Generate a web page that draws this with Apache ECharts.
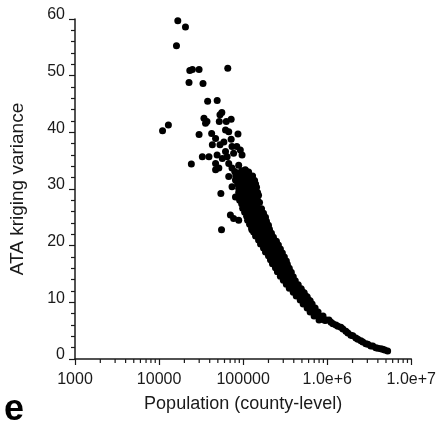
<!DOCTYPE html>
<html>
<head>
<meta charset="utf-8">
<script src="https://cdn.jsdelivr.net/npm/echarts@6/dist/echarts.min.js"></script>
<style>
html,body{margin:0;padding:0;background:#fff;}
#chart{width:439px;height:428px;}
</style>
</head>
<body>
<div id="chart"></div>
<script>
// ---- data (population, ATA kriging variance) ----
const outliers = [
  [16700,59.7],[20600,58.6],[16100,55.3],[23200,50.9],[24900,51.1],[29900,51.1],
  [65600,51.3],[22700,48.8],[33300,48.6],[37800,45.5],[49100,45.6],[11000,40.3],
  [12900,41.3],[24200,34.4],[29900,39.6],[32700,35.7],[54300,29.2],[55300,22.8]
];
const cluster = [
  [34200,42.5],[37100,41.9],[35700,41.6],[53000,43.1],[55800,43.5],[72000,42.3],
  [63000,41.9],[52000,41.9],[42200,39.8],[61700,40.4],[67400,40.1],[86800,39.7],
  [47000,38.9],[72000,38.8],[43000,37.8],[53000,37.8],[59000,38.3],[73700,37.5],
  [84000,37.5],[92500,36.9],[39200,35.7],[49000,36.0],[56500,35.4],[64500,35.7],
  [77000,36.3],[47000,34.5],[51400,33.7],[67400,34.5],[88500,34.2],[106000,33.4],
  [67400,32.2],[81000,31.6],[97000,32.2],[73700,30.4],[92500,30.1],[106000,28.6],
  [81000,28.6],[61700,36.6],[47000,33.4],[73700,33.7],[97000,36.0],[109000,33.1],
  [106000,31.0],[70500,25.4],[77000,24.8],[88500,24.5],[127000,22.8]
];
const band = [
  [79400,33.1],[86100,32.8],[96000,33.2],[104200,32.9],[116100,33.0],
  [81600,32.3],[88500,32.5],[98700,32.1],[110000,32.4],[119300,32.2],[129500,32.3],
  [83800,31.5],[90900,31.8],[101400,31.6],[113000,31.4],[122600,31.7],[136700,31.5],
  [86100,30.9],[93500,30.7],[104200,31.0],[116100,30.8],[126000,31.1],[140500,30.9],
  [88500,30.1],[96000,30.3],[107100,30.2],[116100,29.9],[129500,30.2],[144300,30.3],
  [88500,29.4],[98700,29.6],[107100,29.3],[119300,29.5],[133000,29.7],[148300,29.4],
  [90900,28.8],[101400,28.6],[110000,28.9],[122600,28.7],[136700,28.8],[152400,28.9],
  [90900,28.0],[98700,28.2],[110000,27.9],[122600,28.1],[133000,28.3],[148300,28.0],
  [96000,27.4],[107100,27.2],[116100,27.5],[129500,27.3],[144300,27.4],[156600,27.6],
  [98700,26.6],[110000,26.8],[119300,26.5],[133000,26.7],[148300,26.6],[165400,26.5],
  [104200,25.9],[113000,26.1],[126000,25.8],[140500,26.0],[156600,25.9],[174600,25.7],
  [110000,25.2],[119300,25.3],[133000,25.1],[148300,25.3],[165400,25.2],[184400,25.0],
  [113000,24.5],[126000,24.6],[140500,24.4],[156600,24.6],[174600,24.5],[189400,24.3],
  [119300,23.8],[133000,23.9],[148300,23.7],[165400,23.9],[184400,23.8],[200000,23.6],
  [126000,23.1],[140500,23.2],[156600,23.0],[174600,23.2],[189400,23.1],[205500,22.9],
  [133000,22.4],[148300,22.5],[165400,22.3],[179400,22.5],[200000,22.4],[217000,22.2],
  [140500,21.7],[156600,21.8],[169900,21.6],[189400,21.8],[211200,21.7],[229200,21.5],
  [152400,21.0],[165400,21.1],[184400,20.9],[205500,21.1],[229200,21.0],[248700,20.8],
  [160900,20.3],[179400,20.4],[200000,20.2],[223000,20.4],[242000,20.3],[262400,20.1],
  [174600,19.6],[194700,19.7],[211200,19.5],[235500,19.7],[255500,19.6],[277100,19.4],
  [184400,18.9],[205500,19.0],[229200,18.8],[248700,19.0],[269700,18.9],[292600,18.7],
  [200000,18.2],[223000,18.3],[242000,18.1],[262400,18.3],[284800,18.2],[309000,18.0],
  [211200,17.5],[235500,17.6],[255500,17.4],[277100,17.6],[300700,17.5],[326300,17.3],
  [223000,16.8],[248700,16.9],[277100,16.7],[300700,16.9],[335300,16.7],
  [242000,16.1],[269700,16.2],[292600,16.0],[326300,16.2],[353800,16.0],
  [255500,15.4],[284800,15.5],[309000,15.3],[344300,15.5],[373600,15.3],
  [277100,14.6],[309000,14.7],[335300,14.5],[363600,14.7],[394500,14.5],
  [300700,13.9],[326300,14.0],[353800,13.8],[383900,14.0],[416600,13.8],
  [326300,13.2],[353800,13.3],[383900,13.1],[416600,13.3],[451700,13.1],
  [353800,12.5],[383900,12.6],[416600,12.4],[451700,12.6],[490100,12.4],
  [394500,11.8],[428100,11.9],[464200,11.7],[503600,11.9],[531800,11.7],
  [428100,11.1],[464200,11.2],[503600,11.0],[546500,11.2],[577000,11.0],
  [477000,10.4],[517500,10.5],[561500,10.3],[593000,10.5],[626100,10.3],
  [517500,9.7],[561500,9.8],[609300,9.6],[661100,9.7],
  [577000,9.0],[626100,9.1],[679400,8.9],[717300,9.0],
  [626100,8.3],[679400,8.4],[737100,8.2],[778000,8.3],
  [698100,7.6],[757500,7.7],[821500,7.5],[891400,7.6],
  [799500,6.9],[867500,7.0],[941200,6.8],[1049000,6.9]
];
const tail = [
  [891400,7.1],[967200,6.9],[1108000,6.5],[1170000,6.2],[1269000,6.0],[1340000,5.8],
  [1454000,5.6],[1536000,5.3],[1667000,4.9],[1761000,4.6],[1911000,4.2],[2018000,4.1],
  [2191000,3.7],[2314000,3.5],[2511000,3.2],[2652000,3.0],[2878000,2.7],[3039000,2.6],
  [3299000,2.3],[3484000,2.3],[3781000,2.0],[3993000,1.9],[4333000,1.8],[4576000,1.7],
  [4830000,1.6],[5230000,1.4]
];
const xTickLabels = ['1000','10000','100000','1.0e+6','1.0e+7'];
const yTickLabels = ['0','10','20','30','40','50','60'];
const xTitle = 'Population (county-level)';
const yTitle = 'ATA kriging variance';
const panelLetter = 'e';

// minor tick positions for log axis (2..9 in each decade)
const decades = [1000, 10000, 100000, 1000000];
const minorX = [];
decades.forEach(d => { for (let k = 2; k <= 9; k++) minorX.push([d * k, 0]); });

const allPoints = outliers.concat(cluster, band, tail);
const FONT = '"Liberation Sans", Arial, sans-serif';
const INK = '#1a1a1a';

const chart = echarts.init(document.getElementById('chart'), null, {renderer: 'canvas'});
chart.setOption({
  animation: false,
  backgroundColor: '#ffffff',
  textStyle: {fontFamily: FONT},
  title: {
    text: panelLetter, left: 4, bottom: 0, padding: 0, itemGap: 0,
    textStyle: {fontSize: 36, fontWeight: 'bold', fontFamily: FONT, color: '#000', lineHeight: 36}
  },
  grid: {left: 75, right: 25, top: 19, bottom: 69, containLabel: false},
  xAxis: {
    type: 'log', logBase: 10, min: 1000, max: 10000000, interval: 1,
    splitLine: {show: false},
    axisLine: {show: true, lineStyle: {color: INK, width: 1.5}},
    axisTick: {show: true, length: 6, interval: 0, lineStyle: {color: INK, width: 1.2}},
    axisLabel: {
      fontSize: 16, color: INK, fontFamily: FONT, margin: 13, interval: 0,
      showMinLabel: true, showMaxLabel: true, hideOverlap: false,
      formatter: (v) => {
        const k = Math.round(Math.log10(v)) - 3;
        return xTickLabels[k] !== undefined ? xTickLabels[k] : '';
      }
    },
    name: xTitle, nameLocation: 'middle', nameGap: 36,
    nameTextStyle: {fontSize: 18, color: INK, fontFamily: FONT}
  },
  yAxis: {
    type: 'value', min: 0, max: 60, interval: 10,
    splitLine: {show: false},
    axisLine: {show: true, lineStyle: {color: INK, width: 1.5}},
    axisTick: {show: true, length: 6, lineStyle: {color: INK, width: 1.2}},
    minorTick: {show: true, splitNumber: 5, length: 4, lineStyle: {color: INK, width: 1.2}},
    minorSplitLine: {show: false},
    axisLabel: {
      fontSize: 16, color: INK, fontFamily: FONT, margin: 10,
      verticalAlign: 'bottom', lineHeight: 8,
      formatter: (v) => yTickLabels[Math.round(v / 10)]
    },
    name: yTitle, nameLocation: 'middle', nameGap: 48,
    nameTextStyle: {fontSize: 19, color: INK, fontFamily: FONT}
  },
  series: [
    {
      type: 'scatter', data: allPoints, symbol: 'circle', symbolSize: 7,
      itemStyle: {color: '#000000', opacity: 1}, silent: true
    },
    {
      type: 'custom', data: minorX, clip: false, silent: true,
      encode: {x: 0, y: 1},
      renderItem: (params, api) => {
        const p = api.coord([api.value(0), 0]);
        return {type: 'line', shape: {x1: p[0], y1: p[1], x2: p[0], y2: p[1] + 4},
                style: {stroke: INK, lineWidth: 1.2}};
      }
    }
  ]
});
</script>
</body>
</html>
